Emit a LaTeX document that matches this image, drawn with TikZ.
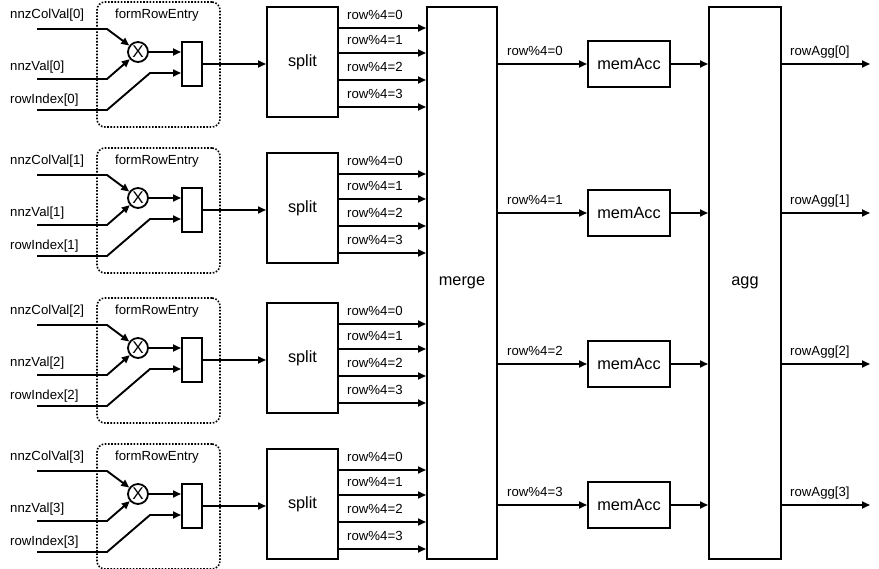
\documentclass[tikz,border=0pt]{standalone}
\usepackage{fontspec}
\setmainfont{Liberation Sans}
\usetikzlibrary{arrows.meta,calc}
\begin{document}
\begin{tikzpicture}[x=1pt,y=-1pt,
  wire/.style={line width=1.9pt},
  arr/.style={wire,-{Triangle[length=8pt,width=7pt]}},
  blk/.style={draw,line width=2pt,inner sep=0pt,font=\fontsize{16.3}{18}\selectfont},
  lbl/.style={inner sep=0pt,anchor=west,font=\fontsize{13.2}{15}\selectfont},
  grp/.style={draw,line width=1.6pt,dash pattern=on 1.6pt off 1.6pt,rounded corners=8pt,inner sep=0pt},
  mulnode/.style={draw,circle,line width=1.8pt,minimum size=20pt,inner sep=0pt,font=\fontsize{17}{18}\selectfont}
]
\useasboundingbox (0,0) rectangle (879,569);
\node[blk,minimum width=70pt,minimum height=552pt] (merge) at (462,283) {merge};
\node[blk,minimum width=72pt,minimum height=552pt] (agg) at (745,283) {agg};
\foreach \k/\y in {0/64,1/213,2/364,3/505}{
  \node[blk,minimum width=82pt,minimum height=46pt] (m\k) at (629,\y) {memAcc};
  \draw[arr] (merge.east |- m\k) -- (m\k);
  \node[lbl] at (507,\y-13) {row\%4=\k};
  \draw[arr] (m\k) -- (agg.west |- m\k);
  \coordinate (o\k) at (870,\y);
  \draw[arr] (agg.east |- m\k) -- (o\k);
  \node[lbl] at (790,\y-12) {rowAgg[\k]};
}
\foreach \g/\d in {0/0,1/146,2/296,3/442}{
  \node[grp,minimum width=123pt,minimum height=125pt] (f\g) at (158.5,64.5+\d) {};
  \node[lbl,anchor=center] at (157,15+\d) {formRowEntry};
  \node[lbl] at (10,15+\d) {nnzColVal[\g]};
  \node[lbl] at (10,67+\d) {nnzVal[\g]};
  \node[lbl] at (10,100+\d) {rowIndex[\g]};
  \node[mulnode] (x\g) at (138,52+\d) {X};
  \node[blk,minimum width=20pt,minimum height=44pt] (r\g) at (192,64+\d) {};
  \coordinate (a\g) at (37,29+\d);
  \coordinate (ab\g) at (107,29+\d);
  \coordinate (b\g) at (37,79+\d);
  \coordinate (bb\g) at (107,79+\d);
  \coordinate (c\g) at (37,110+\d);
  \coordinate (cb\g) at (107,110+\d);
  \coordinate (cc\g) at (150,73+\d);
  \draw[arr] (a\g) -- (ab\g) -- (x\g);
  \draw[arr] (b\g) -- (bb\g) -- (x\g);
  \draw[arr] (c\g) -- (cb\g) -- (cc\g) -- (r\g.west |- cc\g);
  \draw[arr] (x\g) -- (r\g.west |- x\g);
  \node[blk,minimum width=71pt,minimum height=110pt] (s\g) at (302.5,62+\d) {split};
  \draw[arr] (r\g) -- (s\g.west |- r\g);
  \foreach \j/\yy in {0/28,1/53,2/80,3/107}{
    \coordinate (t\g\j) at (380,\yy+\d);
    \draw[arr] (s\g.east |- t\g\j) -- (merge.west |- t\g\j);
    \node[lbl] at (347,\yy+\d-13) {row\%4=\j};
  }
}
\end{tikzpicture}
\end{document}
